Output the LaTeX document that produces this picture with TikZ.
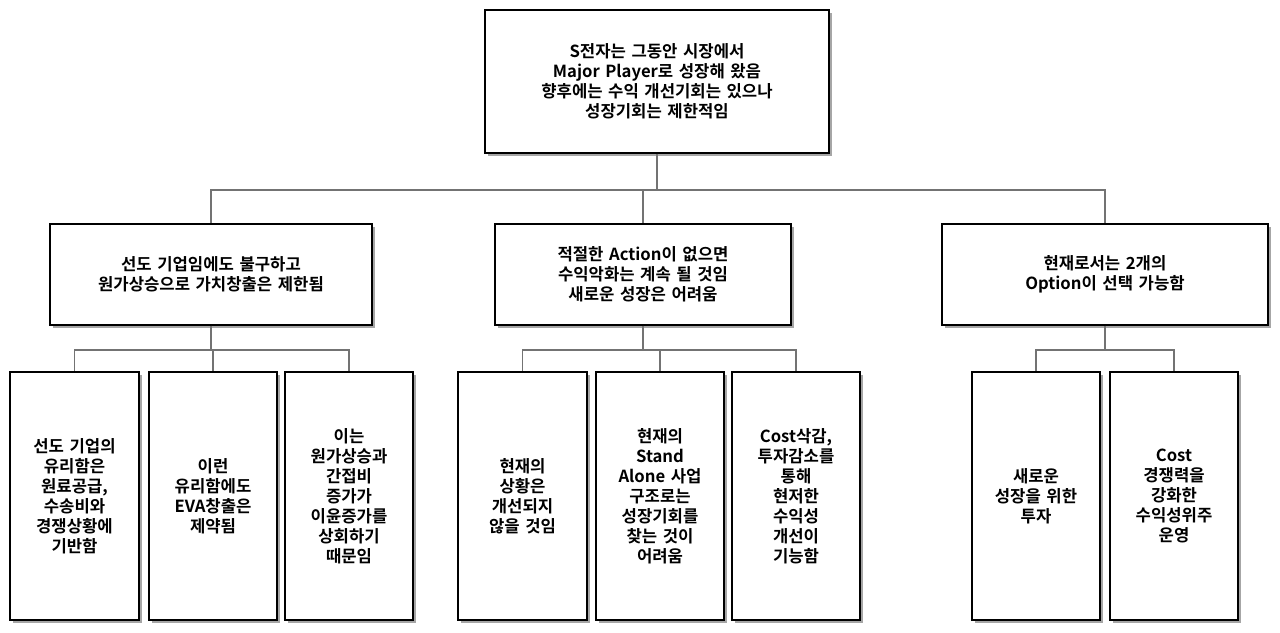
\documentclass[tikz,border=0pt]{standalone}
\usepackage{fontspec}
\setmainfont{Noto Sans CJK KR}[BoldFont={Noto Sans CJK KR Bold}]
\usetikzlibrary{shadows}
\begin{document}
\begin{tikzpicture}[x=0.75pt,y=-0.75pt,
  box/.style={draw=black,line width=1pt,fill=white,align=center,inner sep=2pt,
    font=\bfseries\fontsize{12.5pt}{15pt}\selectfont,
    drop shadow={shadow xshift=2pt,shadow yshift=-2pt,fill=black!35,opacity=1}},
  conn/.style={draw=black!55,line width=0.8pt}]
\useasboundingbox (0,0) rectangle (1280,632);
\newcommand{\bx}[6]{\node[box,minimum width=#3*0.75pt,minimum height=#4*0.75pt,text width=(#3-12)*0.75pt] (#5) at (#1,#2) {#6};}
\bx{657}{81.5}{344}{143}{top}{S전자는 그동안 시장에서\\Major Player로 성장해 왔음\\향후에는 수익 개선기회는 있으나\\성장기회는 제한적임}
\bx{211}{274.5}{322}{101}{a}{선도 기업임에도 불구하고\\원가상승으로 가치창출은 제한됨}
\bx{643}{274.5}{296}{101}{b}{적절한 Action이 없으면\\수익악화는 계속 될 것임\\새로운 성장은 어려움}
\bx{1105}{274.5}{326}{101}{c}{현재로서는 2개의\\Option이 선택 가능함}
\bx{74.5}{496}{129}{248}{a1}{선도 기업의\\유리함은\\원료공급,\\수송비와\\경쟁상황에\\기반함}
\bx{213}{496}{128}{248}{a2}{이런\\유리함에도\\EVA창출은\\제약됨}
\bx{349}{496}{128}{248}{a3}{이는\\원가상승과\\간접비\\증가가\\이윤증가를\\상회하기\\때문임}
\bx{522.5}{496}{129}{248}{b1}{현재의\\상황은\\개선되지\\않을 것임}
\bx{660}{496}{128}{248}{b2}{현재의\\Stand\\Alone 사업\\구조로는\\성장기회를\\찾는 것이\\어려움}
\bx{796}{496}{128}{248}{b3}{Cost삭감,\\투자감소를\\통해\\현저한\\수익성\\개선이\\기능함}
\bx{1036}{496}{128}{248}{c1}{새로운\\성장을 위한\\투자}
\bx{1174}{496}{128}{248}{c2}{Cost\\경쟁력을\\강화한\\수익성위주\\운영}
\coordinate (t1) at (657,190);
\coordinate (ab) at (211,350);
\coordinate (bb) at (643,350);
\coordinate (cb) at (1105,350);
\draw[conn] (top.south) -- (t1);
\foreach \n in {a,b,c} \draw[conn] (t1) -| (\n.north);
\draw[conn] (a.south) -- (ab);
\foreach \n in {a1,a2,a3} \draw[conn] (ab) -| (\n.north);
\draw[conn] (b.south) -- (bb);
\foreach \n in {b1,b2,b3} \draw[conn] (bb) -| (\n.north);
\draw[conn] (c.south) -- (cb);
\foreach \n in {c1,c2} \draw[conn] (cb) -| (\n.north);
\end{tikzpicture}
\end{document}
